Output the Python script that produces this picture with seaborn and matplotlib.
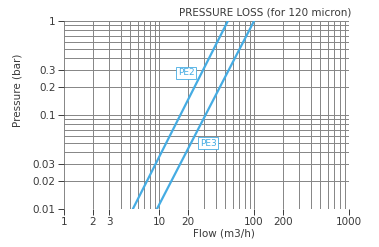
import matplotlib
matplotlib.use("Agg")
import matplotlib.pyplot as plt
import seaborn as sns
import pandas as pd
import numpy as np
from matplotlib.ticker import FixedLocator, NullFormatter, LogLocator

sns.set_style("white")
plt.rcParams['font.family'] = ['DejaVu Sans']

# Data
pe2_flow = [5.3, 53.0]
pe2_pressure = [0.01, 1.0]
pe3_flow = [9.5, 100.0]
pe3_pressure = [0.01, 1.0]
series_names = ["PE2", "PE3"]

x_ticks = [1, 2, 3, 10, 20, 100, 200, 1000]
x_tick_labels = ["1", "2", "3", "10", "20", "100", "200", "1000"]
y_ticks = [0.01, 0.02, 0.03, 0.1, 0.2, 0.3, 1]
y_tick_labels = ["0.01", "0.02", "0.03", "0.1", "0.2", "0.3", "1"]

df = pd.DataFrame({
    "flow": pe2_flow + pe3_flow,
    "pressure": pe2_pressure + pe3_pressure,
    "series": [series_names[0]] * len(pe2_flow) + [series_names[1]] * len(pe3_flow),
})

line_color = "#45ace3"
text_color = "#3a3a3a"
fig = plt.figure(figsize=(3.79, 2.47), dpi=100)
ax = fig.add_axes([0.169, 0.154, 0.752, 0.761])

sns.lineplot(data=df, x="flow", y="pressure", hue="series",
             palette=[line_color, line_color], linewidth=1.6, ax=ax, legend=False)

ax.set_xscale("log")
ax.set_yscale("log")
ax.set_xlim(1, 1000)
ax.set_ylim(0.01, 1)

ax.xaxis.set_major_locator(FixedLocator(x_ticks))
ax.set_xticklabels(x_tick_labels)
ax.yaxis.set_major_locator(FixedLocator(y_ticks))
ax.set_yticklabels(y_tick_labels)
ax.xaxis.set_minor_locator(LogLocator(base=10, subs=np.arange(1, 10)))
ax.yaxis.set_minor_locator(LogLocator(base=10, subs=np.arange(1, 10)))
ax.xaxis.set_minor_formatter(NullFormatter())
ax.yaxis.set_minor_formatter(NullFormatter())

ax.grid(True, which="both", color="#858585", linewidth=0.7)
ax.set_axisbelow(True)
for s in ax.spines.values():
    s.set_visible(False)

ax.tick_params(axis="both", which="major", labelsize=7.5, colors=text_color,
               length=4, width=0.7, pad=2)
ax.tick_params(axis="both", which="minor", length=0)
ax.tick_params(axis="y", which="major", left=True)
ax.tick_params(axis="x", which="major", bottom=True)

ax.set_xlabel("Flow (m3/h)", fontsize=7.5, color=text_color, labelpad=1)
ax.xaxis.set_label_coords(0.56, -0.105)
ax.set_ylabel("Pressure (bar)", fontsize=7.5, color=text_color, labelpad=4)
ax.yaxis.set_label_coords(-0.145, 0.63)

fig.text(0.928, 0.95, "PRESSURE LOSS (for 120 micron)", fontsize=7.5,
         ha="right", va="center", color=text_color)

ax.text(19.2, 0.28, series_names[0], fontsize=6.5, color=line_color,
        ha="center", va="center",
        bbox=dict(boxstyle="square,pad=0.15", fc="white", ec=line_color, lw=0.6))
ax.text(32.8, 0.05, series_names[1], fontsize=6.5, color=line_color,
        ha="center", va="center",
        bbox=dict(boxstyle="square,pad=0.15", fc="white", ec=line_color, lw=0.6))

fig.savefig("out.png", dpi=100)
